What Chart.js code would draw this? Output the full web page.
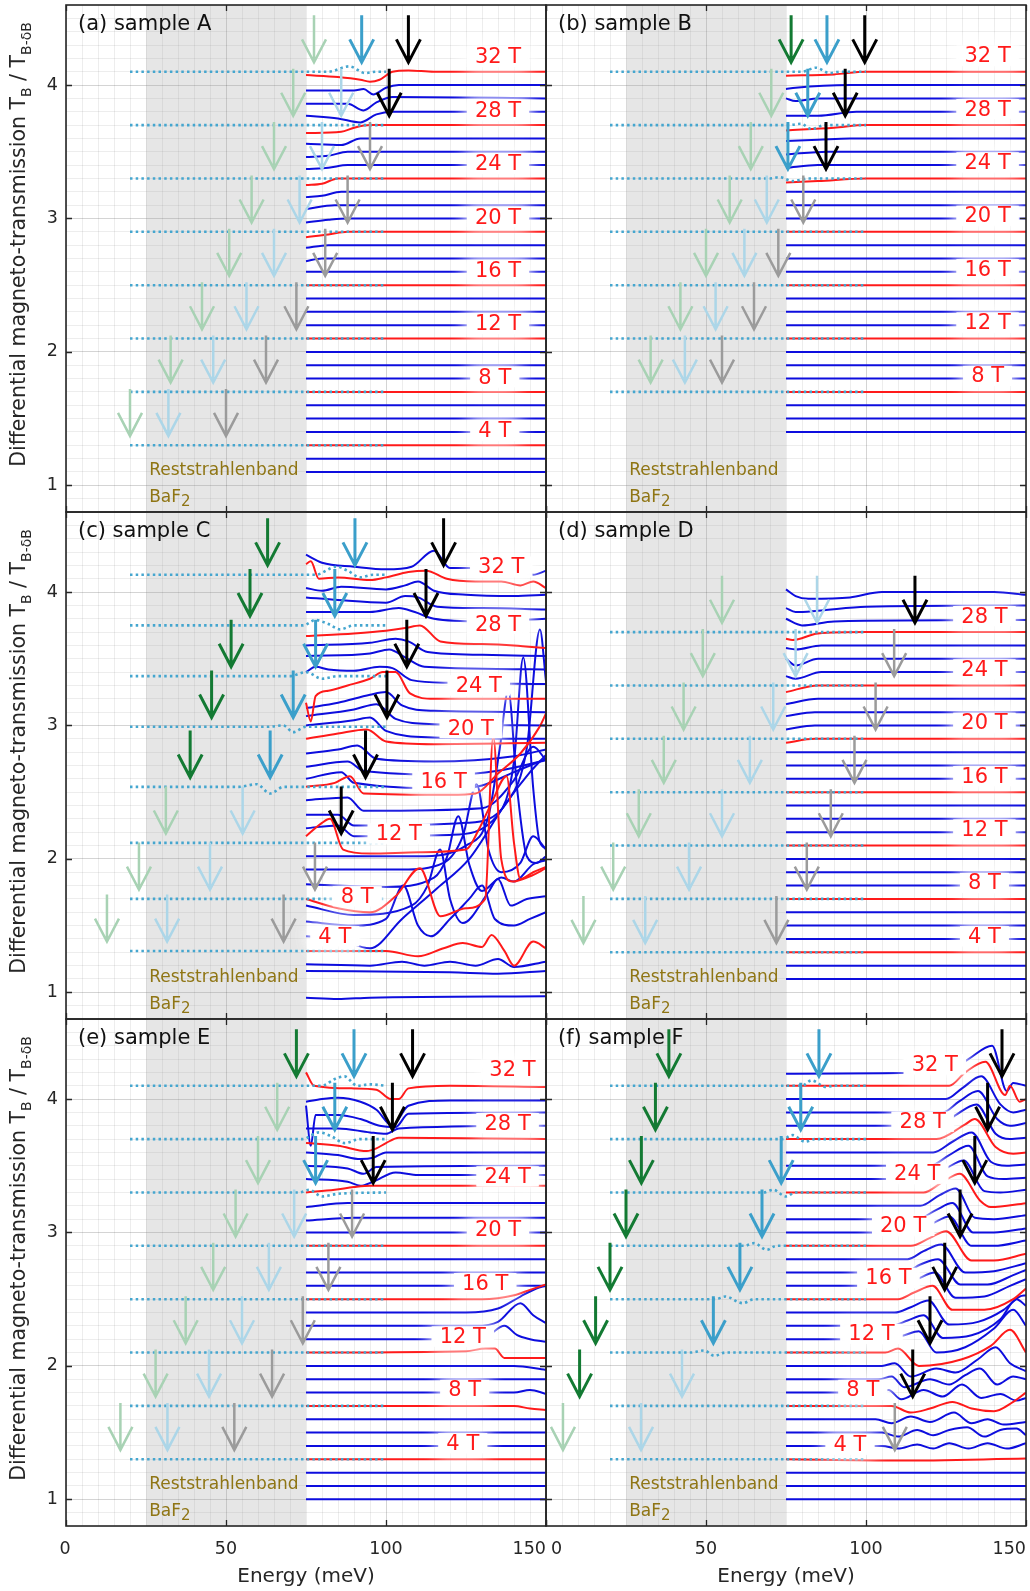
<!DOCTYPE html>
<html>
<head>
<meta charset="utf-8">
<script src="https://cdn.jsdelivr.net/npm/chart.js@4.4.1/dist/chart.umd.min.js"></script>
<style>
  body { margin: 0; background: #fff; }
  #wrap { position: relative; width: 1030px; height: 1591px; overflow: hidden; }
  #wrap canvas { position: absolute; }
</style>
</head>
<body>
<div id="wrap"></div>
<script>
// ---- axis ranges ----
const energyRange = [0, 150];
const ratioRange = [0.8, 4.6];
const bandRange = [25, 75];           // BaF2 Reststrahlenband
const energyTicks = [0, 50, 100, 150];
const ratioTicks = [1, 2, 3, 4];
const fieldStep = 0.1;                // vertical offset per tesla

// ---- traces: [field, [[energy, deviation], ...]]; fields not listed are flat ----
const flatTrace = [[75, 0], [150, 0]];
const flatDotted = [[20, 0], [100, 0]];

// sample A
const fieldsA = [2,3,4,5,6,7,8,9,10,11,12,13,14,15,16,17,18,19,20,21,22,23,24,25,26,27,28,29,30,31,32];
const tracesA = [
  [32, [[75,-0.025],[85,-0.04],[92,-0.06],[95,-0.075],[98,-0.06],[102,0],[107,0.01],[115,0],[150,0]]],
  [31, [[75,-0.04],[90,-0.04],[93,-0.03],[96,-0.07],[100,-0.02],[104,0],[150,0]]],
  [30, [[75,-0.04],[88,-0.04],[93,-0.09],[97,-0.03],[102,0.01],[150,0]]],
  [29, [[75,-0.03],[85,-0.05],[92,-0.08],[97,-0.02],[102,0],[150,0]]],
  [28, [[75,-0.06],[86,-0.05],[90,-0.02],[95,0],[150,0]]],
  [27, [[75,-0.04],[86,-0.05],[92,0],[150,0]]],
  [26, [[75,-0.04],[82,-0.03],[88,0],[150,0]]],
  [25, [[75,-0.03],[82,-0.02],[88,0],[150,0]]],
  [24, [[75,-0.05],[80,-0.04],[85,0],[150,0]]],
  [23, [[75,-0.04],[80,-0.03],[86,0],[150,0]]],
  [22, [[75,-0.03],[84,0],[150,0]]],
  [21, [[75,-0.03],[82,-0.01],[88,0],[150,0]]],
  [20, [[75,-0.04],[82,-0.02],[88,0],[150,0]]],
  [19, [[75,-0.02],[82,0],[150,0]]],
  [18, [[75,-0.02],[80,0],[150,0]]]
];
const dottedFieldsA = [4, 8, 12, 16, 20, 24, 28, 32];
const dottedA = [
  [32, [[20,0],[82,0],[88.5,0.04],[93.5,-0.01],[97,0],[100,0]]]
];
const arrowsA = [
  [32,77.5,'g0'],[32,92.4,'b'],[32,107,'k'],
  [28,71,'g0'],[28,86,'b0'],[28,101,'k'],
  [24,65,'g0'],[24,80,'b0'],[24,95,'k0'],
  [20,58,'g0'],[20,73,'b0'],[20,88,'k0'],
  [16,51,'g0'],[16,65,'b0'],[16,81,'k0'],
  [12,42.5,'g0'],[12,56.4,'b0'],[12,72,'k0'],
  [8,32.7,'g0'],[8,46,'b0'],[8,62.5,'k0'],
  [4,20,'g0'],[4,32,'b0'],[4,50,'k0']
];
const labelsA = [[32,135,4.21],[28,135,3.81],[24,135,3.41],[20,135,3.01],[16,135,2.61],[12,135,2.21],[8,134,1.81],[4,134,1.41]];

// sample B
const fieldsB = [5,6,7,8,9,10,11,12,13,14,15,16,17,18,19,20,21,22,23,24,25,26,27,28,29,30,31,32];
const tracesB = [
  [32, [[75,-0.03],[90,-0.02],[100,0],[150,0]]],
  [31, [[75,-0.03],[78,-0.02],[95,0],[150,0]]],
  [30, [[75,0],[78,-0.02],[85,0],[150,0]]],
  [29, [[75,-0.03],[85,-0.03],[97,0],[150,0]]],
  [28, [[75,-0.04],[90,-0.02],[100,0],[150,0]]],
  [27, [[75,-0.02],[85,-0.01],[95,0],[150,0]]],
  [26, [[75,-0.02],[88,0],[150,0]]],
  [25, [[75,-0.02],[85,0],[150,0]]],
  [24, [[75,-0.03],[85,-0.02],[100,0],[150,0]]]
];
const dottedFieldsB = [8, 12, 16, 20, 24, 28, 32];
const dottedB = [
  [32, [[20,0],[80,0],[84.3,0.03],[88.6,-0.01],[92,0],[100,0]]],
  [28, [[20,0],[76,0],[79.6,0.01],[83,-0.03],[87,0],[100,0]]],
  [24, [[20,0],[70,0],[73,0.01],[77,-0.02],[82,0],[100,0]]]
];
const arrowsB = [
  [32,76.6,'g'],[32,87.8,'b'],[32,99.6,'k'],
  [28,70.4,'g0'],[28,81.8,'b'],[28,93.5,'k'],
  [24,64,'g0'],[24,75.6,'b'],[24,87.5,'k'],
  [20,57.4,'g0'],[20,69,'b0'],[20,80.4,'k0'],
  [16,50,'g0'],[16,62,'b0'],[16,72.6,'k0'],
  [12,42,'g0'],[12,53,'b0'],[12,65,'k0'],
  [8,32.7,'g0'],[8,43.4,'b0'],[8,55,'k0']
];
const labelsB = [[32,138,4.22],[28,138,3.82],[24,138,3.42],[20,138,3.02],[16,138,2.62],[12,138,2.22],[8,138,1.82]];

// sample C (own baselines)
const fieldsC = [1,2,3,4,5,6,7,8,9,10,11,12,13,14,15,16,17,18,19,20,21,22,23,24,25,26,27,28,29,30,31,32,33];
const baseC = [0.96,1.16,1.21,1.31,1.40,1.50,1.60,1.70,1.81,1.92,2.02,2.12,2.23,2.33,2.44,2.54,2.65,2.76,2.87,2.99,3.08,3.18,3.27,3.37,3.46,3.56,3.65,3.75,3.85,3.94,4.03,4.13,4.25];
const tracesC = [
  [33, [[75,0.03],[80,-0.03],[90,-0.06],[100,-0.08],[108,-0.06],[115,0.06],[120,-0.07],[130,-0.07],[140,-0.08],[146,-0.12],[150,-0.09]]],
  [32, [[75,0.08],[76.5,0.1],[79,-0.03],[85,-0.02],[95,-0.04],[100,-0.02],[107,0.02],[112.5,0.03],[119,-0.03],[128,-0.05],[136,-0.05],[142,-0.08],[146,-0.05],[150,-0.1]]],
  [31, [[75,0],[80,-0.02],[86,0.01],[100,-0.01],[106,0.02],[110,0.05],[115,-0.02],[125,-0.05],[140,-0.06],[150,-0.05]]],
  [30, [[75,0.02],[85,0],[100,-0.02],[106,0.03],[110,0.02],[116,-0.05],[130,-0.06],[150,-0.07]]],
  [29, [[75,0],[95,0],[104,0.03],[109,0],[115,-0.05],[130,-0.07],[150,-0.05]]],
  [28, [[75,-0.08],[90,-0.06],[100,-0.04],[106,-0.02],[110.6,0],[117,-0.12],[130,-0.14],[140,-0.15],[150,-0.17]]],
  [27, [[75,-0.05],[95,-0.03],[103,0],[107,-0.02],[113,-0.1],[130,-0.12],[150,-0.13]]],
  [26, [[75,-0.04],[95,-0.02],[101,0.01],[106,-0.05],[112,-0.12],[150,-0.14]]],
  [25, [[75,-0.06],[78,-0.02],[82,-0.04],[90,-0.05],[98,-0.02],[102,-0.03],[108,-0.12],[120,-0.14],[150,-0.15]]],
  [24, [[75,-0.2],[76.5,-0.34],[78,-0.15],[82,-0.11],[88,-0.07],[95,-0.02],[99,0.03],[103,0.03],[107.5,-0.13],[115,-0.17],[150,-0.17]]],
  [23, [[75,-0.14],[85,-0.1],[95,-0.04],[100,-0.02],[105,-0.12],[115,-0.16],[150,-0.17]]],
  [22, [[75,-0.11],[90,-0.06],[97,-0.02],[103,-0.13],[115,-0.17],[150,-0.18]]],
  [21, [[75,-0.08],[90,-0.04],[95,-0.02],[100,-0.12],[115,-0.17],[150,-0.18]]],
  [20, [[75,-0.09],[85,-0.05],[94,-0.02],[100,-0.11],[115,-0.13],[150,-0.12]]],
  [19, [[75,-0.08],[85,-0.05],[91,-0.02],[97,-0.12],[115,-0.14],[140,-0.1],[150,-0.05]]],
  [18, [[75,-0.07],[88,-0.03],[93,-0.1],[120,-0.13],[135,-0.1],[150,-0.02]]],
  [17, [[75,-0.05],[86,0],[90,-0.08],[120,-0.12],[130,-0.1],[140,0],[150,0.1]]],
  [16, [[75,0],[84,0.03],[88.7,0.08],[93,-0.05],[120,-0.06],[128,-0.05],[135,0.1],[142,0.25],[148,0.45],[150,0.55]]],
  [15, [[75,0],[88,0.02],[93,-0.08],[130,-0.06],[140,0.15],[146,0.4],[150,0.3]]],
  [14, [[75,0],[85,0],[90,-0.08],[125,-0.06],[138,0.1],[144,0.5],[148.1,1.39],[150,1.0]]],
  [13, [[75,0],[85,0.02],[90,-0.06],[120,-0.05],[135,0.1],[140,0.5],[142.9,1.28],[146,0.3],[148,-0.1],[150,-0.15]]],
  [12, [[75,0.05],[80,0.15],[82.5,0.18],[86.6,-0.05],[95,-0.08],[110,-0.07],[125,-0.05],[129,0.1],[133,0.3],[137.7,0.5],[140,0],[142,-0.27],[146,-0.22],[150,-0.18]]],
  [11, [[75,0],[110,0],[125,0.08],[132,0.3],[135.5,0.8],[138.2,1.24],[141,0.5],[144,0],[147,-0.05],[150,0]]],
  [10, [[75,0],[105,0],[118,0.05],[124,0.25],[128.3,0.64],[132,0.15],[136,-0.02],[142,0.05],[146,0.25],[150,0.15]]],
  [9, [[75,0],[100,-0.02],[115,0.05],[119,0.2],[122.6,0.51],[126,0.15],[130,-0.05],[136,0.05],[140,0.02],[146,0.15],[150,0.18]]],
  [8, [[75,0],[85,-0.07],[95,-0.1],[103,0.02],[110.6,0.23],[117,-0.13],[125,-0.07],[131,0],[133.5,1.22],[136,0.3],[139.5,0.13],[145,0.17],[150,0.23]]],
  [7, [[75,0.05],[90,-0.02],[108,0.05],[113,0.2],[116.9,0.47],[120,0.1],[124,-0.08],[132,0.15],[135,0.25],[139,0.05],[144,0.1],[150,0.12]]],
  [6, [[75,0.03],[90,0],[100,0.05],[105.4,0.3],[110,0],[114,-0.08],[120,0.05],[126,0.2],[130,0.3],[134,0.05],[140,0],[145,0.05],[150,0.1]]],
  [5, [[75,0.02],[85,0],[95,-0.07],[105,0.15],[116,0.38],[126,0.6],[137,1.0],[145,1.25],[150,1.38]]],
  [4, [[75,0],[100,0],[110,-0.04],[118,0.02],[124,0.06],[130,0.03],[133,0.12],[137,0],[140,-0.11],[146,0.07],[150,0.02]]],
  [3, [[75,0],[95,-0.01],[105,0.02],[112,-0.01],[120,0.02],[128,-0.01],[135,0.04],[140,-0.02],[150,0.02]]],
  [2, [[75,0],[120,-0.01],[135,-0.02],[150,0]]],
  [1, [[75,0],[85,-0.01],[95,0],[150,0.01]]]
];
const dottedFieldsC = [4, 8, 12, 16, 20, 24, 28, 32];
const dottedC = [
  [32, [[20,0],[78,0],[84.5,0.06],[88,0.03],[92,-0.02],[96,0],[100,0]]],
  [28, [[20,0],[74,0],[78,0.04],[82,0.01],[85.6,-0.03],[90,0],[100,0]]],
  [24, [[20,0],[70,0],[75,0.03],[80,-0.02],[85,0],[100,0]]],
  [20, [[20,0],[63,0],[67.9,0.01],[71,-0.04],[75,0],[100,0]]],
  [16, [[20,0],[54,0],[59.6,0.02],[63.8,-0.05],[68,0],[100,0]]]
];
const arrowsC = [
  [32,63,'g'],[32,90.3,'b'],[32,118,'k'],
  [28,57.5,'g'],[28,84,'b'],[28,112.5,'k'],
  [24,51.6,'g'],[24,78,'b'],[24,106.5,'k'],
  [20,45.5,'g'],[20,71,'b'],[20,100.3,'k'],
  [16,38.8,'g'],[16,63.8,'b'],[16,93.6,'k'],
  [12,31.2,'g0'],[12,55.2,'b0'],[12,86,'k'],
  [8,22.8,'g0'],[8,45,'b0'],[8,77.8,'k0'],
  [4,12.8,'g0'],[4,31.6,'b0'],[4,68,'k0']
];
const labelsC = [[32,136,4.19],[28,135,3.76],[24,129,3.30],[20,126.5,2.98],[16,118,2.58],[12,104,2.19],[8,91,1.72],[4,84,1.42]];

// sample D
const fieldsD = [2,3,4,5,6,7,8,9,10,11,12,13,14,15,16,17,18,19,20,21,22,23,24,25,26,27,28,29,30,31];
const tracesD = [
  [31, [[75,0.02],[78,-0.03],[82,-0.05],[95,-0.04],[105,0],[140,0],[150,-0.02]]],
  [30, [[75,-0.02],[78,-0.05],[85,-0.04],[100,-0.01],[150,0]]],
  [29, [[75,0],[80,-0.05],[90,-0.02],[150,-0.01]]],
  [28, [[75,-0.05],[77,-0.06],[85,-0.01],[100,0],[150,0]]],
  [27, [[75,-0.02],[78,-0.03],[86,0],[150,0]]],
  [26, [[75,0],[78,-0.05],[85,0],[150,0]]],
  [25, [[75,-0.03],[78,-0.05],[86,0],[150,0]]],
  [24, [[75,-0.05],[85,0],[150,0]]],
  [23, [[75,-0.04],[85,0],[150,0]]],
  [22, [[75,-0.03],[84,0],[150,0]]],
  [21, [[75,-0.03],[84,0],[150,0]]],
  [20, [[75,-0.03],[84,0],[150,0]]]
];
const dottedFieldsD = [4, 8, 12, 16, 20, 24, 28];
const dottedD = [];
const arrowsD = [
  [28,55,'g0'],[28,84.7,'b0'],[28,115.3,'k'],
  [24,49,'g0'],[24,78,'b0'],[24,108.8,'k0'],
  [20,43,'g0'],[20,71,'b0'],[20,103,'k0'],
  [16,36.8,'g0'],[16,63.7,'b0'],[16,96.4,'k0'],
  [12,29,'g0'],[12,55,'b0'],[12,89,'k0'],
  [8,21,'g0'],[8,44.7,'b0'],[8,81.5,'k0'],
  [4,11.7,'g0'],[4,31,'b0'],[4,72,'k0']
];
const labelsD = [[28,137,3.82],[24,137,3.42],[20,137,3.02],[16,137,2.62],[12,137,2.22],[8,137,1.82],[4,137,1.42]];

// sample E
const fieldsE = [1,2,3,4,5,6,7,8,9,10,11,12,13,14,15,16,17,18,19,20,21,22,23,24,25,26,27,28,29,30,31,32];
const tracesE = [
  [32, [[75,0.1],[77.5,0],[90,-0.02],[97,-0.03],[101.5,-0.1],[104,-0.1],[107,-0.02],[120,0],[150,-0.01]]],
  [31, [[75,-0.02],[80,0],[85,0.01],[92,-0.02],[97,-0.08],[102,-0.2],[107,-0.05],[120,-0.01],[150,-0.01]]],
  [30, [[75,0.05],[76.5,-0.25],[78,-0.02],[85,-0.02],[92,-0.05],[98,-0.1],[103,-0.11],[107,-0.01],[150,0]]],
  [29, [[75,-0.02],[85,-0.02],[95,-0.05],[100,-0.06],[104,-0.02],[150,0]]],
  [28, [[75,-0.03],[85,-0.05],[94,-0.09],[97,-0.07],[100,-0.03],[104,0.01],[150,0]]],
  [27, [[75,0],[85,-0.02],[92,-0.05],[96,-0.04],[100,0],[150,0]]],
  [26, [[75,0],[88,-0.02],[93,-0.06],[97,-0.01],[150,0]]],
  [25, [[75,0],[88,-0.02],[92,-0.05],[96,-0.02],[103,0.05],[110,0.03],[150,0.03]]],
  [24, [[75,0],[84,0.02],[90,0.04],[95,0.05],[150,0.05]]],
  [23, [[75,-0.01],[88,0.02],[150,0.02]]],
  [22, [[75,-0.01],[90,0.01],[150,0.01]]],
  [16, [[75,0],[130,0],[140,0.03],[145,0.07],[150,0.11]]],
  [15, [[75,0],[125,0],[135,0.03],[142,0.12],[147,0.18],[150,0.2]]],
  [14, [[75,0],[128,0],[135,0.03],[142,0.17],[146,0.08],[150,0.02]]],
  [13, [[75,0],[128,0],[132,0.03],[137,0.1],[141,0.03],[145,0],[150,-0.02]]],
  [12, [[75,0],[125,0.01],[131,0.03],[134,0.03],[137,-0.04],[150,-0.04]]],
  [11, [[75,0],[140,0],[150,-0.03]]],
  [9, [[75,0],[140,0],[145,0.02],[150,-0.01]]],
  [8, [[75,0],[140,0],[145,-0.02],[150,-0.03]]]
];
const dottedFieldsE = [4, 8, 12, 16, 20, 24, 28, 32];
const dottedE = [
  [32, [[20,0],[80,0],[84,0.05],[87,0.07],[91,0],[95,0.01],[100,0]]],
  [28, [[20,0],[74,0],[79,0.05],[83,0.02],[87,-0.03],[92,0],[100,0]]],
  [24, [[20,0],[73,0],[76,0.02],[80,-0.03],[85,-0.01],[100,0]]]
];
const arrowsE = [
  [32,72,'g'],[32,90,'b'],[32,108.3,'k'],
  [28,66,'g0'],[28,84,'b'],[28,102,'k'],
  [24,60,'g0'],[24,78,'b'],[24,96,'k'],
  [20,53,'g0'],[20,71.3,'b0'],[20,89.4,'k0'],
  [16,46,'g0'],[16,63.4,'b0'],[16,82,'k0'],
  [12,37.4,'g0'],[12,55,'b0'],[12,74,'k0'],
  [8,28,'g0'],[8,44.7,'b0'],[8,64.4,'k0'],
  [4,17,'g0'],[4,31.7,'b0'],[4,52.6,'k0']
];
const labelsE = [[32,139.5,4.22],[28,138,3.82],[24,138,3.42],[20,135,3.02],[16,131,2.62],[12,124,2.22],[8,124.6,1.82],[4,124,1.42]];

// sample F
const fieldsF = [1,2,3,4,5,6,7,8,9,10,11,12,13,14,15,16,17,18,19,20,21,22,23,24,25,26,27,28,29,30,31,32,33];
const tracesF = [
  [33, [[75,-0.01],[125,0],[132,0.1],[139.4,0.2],[144,-0.14],[146,-0.08],[150,-0.1]]],
  [32, [[75,0],[126,0],[131,0.1],[137.3,0.18],[143.5,-0.07],[145,0],[148,-0.12],[150,-0.1]]],
  [31, [[75,0],[125,0],[130,0.08],[136,0.17],[142,-0.04],[146,-0.1],[150,-0.08]]],
  [30, [[75,0],[124,0],[129,0.08],[135,0.16],[141,-0.05],[145,-0.1],[150,-0.08]]],
  [29, [[75,0],[123,0],[128,0.08],[134.5,0.16],[140.5,-0.06],[145,-0.1],[150,-0.09]]],
  [28, [[75,0],[122,0],[131,0.11],[134,0.15],[140.5,-0.06],[146,-0.11],[150,-0.1]]],
  [27, [[75,0],[121,0],[127,0.08],[133,0.15],[139,-0.07],[144,-0.1],[150,-0.09]]],
  [26, [[75,0],[120,0],[126,0.08],[132,0.15],[138,-0.08],[143,-0.1],[150,-0.09]]],
  [25, [[75,0],[119,0],[125,0.08],[130.5,0.14],[137,-0.09],[142,-0.1],[150,-0.08]]],
  [24, [[75,0],[118,0],[124,0.08],[129.3,0.14],[135.6,-0.06],[139,-0.11],[150,-0.08]]],
  [23, [[75,0],[117,0],[123,0.08],[128,0.13],[134,-0.09],[140,-0.1],[150,-0.07]]],
  [22, [[75,0],[116,0],[122,0.07],[127,0.12],[133.5,-0.1],[140,-0.1],[150,-0.07]]],
  [21, [[75,0],[115,0],[121,0.07],[126,0.12],[133,-0.1],[140,-0.1],[150,-0.06]]],
  [20, [[75,0],[114,0],[120,0.06],[125,0.11],[133,-0.11],[140,-0.11],[150,-0.06]]],
  [19, [[75,0],[113,0],[118,0.06],[123.5,0.11],[131,-0.1],[140,-0.09],[150,-0.03]]],
  [18, [[75,0],[112,0],[117,0.06],[122.5,0.1],[129.5,-0.09],[138,-0.09],[146,-0.02],[150,0.02]]],
  [17, [[75,0],[111,0],[116,0.05],[121.5,0.1],[128,-0.09],[137,-0.08],[145,0],[150,0.05]]],
  [16, [[75,0],[110,0],[115,0.05],[120.8,0.1],[127,-0.08],[137,-0.08],[146,0],[150,0.08]]],
  [15, [[75,0],[109,0],[114,0.04],[119.5,0.09],[126,-0.09],[135,-0.07],[143,0.02],[148,0.12],[150,0.13]]],
  [14, [[75,0],[108,0],[113,0.04],[118,0.08],[124,-0.09],[133,-0.07],[142,0.05],[147,0.2],[150,0.15]]],
  [13, [[75,0],[107,0],[112,0.03],[116.5,0.06],[122,-0.1],[131,-0.06],[140,0.08],[146,0.22],[150,0.1]]],
  [12, [[75,0],[106,0],[110,0.03],[116.5,-0.1],[130,-0.05],[139,0.05],[145,0.17],[150,0]]],
  [11, [[75,0],[105,0],[109,0.02],[114,-0.08],[122,-0.02],[128,-0.05],[135,0.05],[140.5,0.14],[145,0.02],[150,-0.04]]],
  [10, [[75,0],[104,0],[108,0.02],[112,-0.06],[120,0],[126,-0.04],[131,0.03],[135.6,0.08],[141,-0.04],[146,0.02],[150,0]]],
  [9, [[75,0],[104,0],[107,0.02],[111,-0.05],[118,0.02],[124,-0.03],[130,0.06],[136,-0.04],[142,-0.01],[147,-0.06],[150,-0.04]]],
  [8, [[75,0],[108,0],[114,-0.05],[120,-0.02],[127,0.03],[133,-0.02],[140,-0.04],[146,0.03],[150,0.1]]],
  [7, [[75,0],[103,0],[108,-0.03],[114,0.02],[120,-0.02],[127.5,0.05],[133,-0.03],[138,0],[143,-0.04],[150,-0.02]]],
  [6, [[75,0],[105,0],[110,-0.03],[116,0.02],[121,-0.02],[126,0.02],[131.6,0.04],[137,-0.03],[142,0.02],[147,0.03],[150,-0.02]]],
  [5, [[75,0],[105,0],[110,-0.02],[116,0.01],[121,-0.02],[126,0.02],[132,-0.02],[138,0.02],[144,-0.02],[150,0.02]]],
  [4, [[75,0],[110,-0.01],[150,0.005]]]
];
const dottedFieldsF = [4, 8, 12, 16, 20, 24, 28, 32];
const dottedF = [
  [32, [[20,0],[80,0],[83,0.04],[87.5,-0.01],[90,0],[100,0]]],
  [28, [[20,0],[74,0],[77,0.03],[81,-0.02],[84,0],[100,0]]],
  [24, [[20,0],[68,0],[71,0.02],[75,-0.03],[78,0],[100,0]]],
  [20, [[20,0],[62,0],[65,0.02],[69,-0.03],[72,0],[100,0]]],
  [16, [[20,0],[53,0],[56,0.02],[61.5,-0.03],[65,0],[100,0]]],
  [12, [[20,0],[45,0],[49.5,0.015],[52.6,-0.025],[56,0],[100,0]]]
];
const arrowsF = [
  [32,38.4,'g'],[32,85.3,'b'],[32,142.5,'k'],
  [28,34.2,'g'],[28,79.6,'b'],[28,138,'k'],
  [24,29.8,'g'],[24,73.5,'b'],[24,134,'k'],
  [20,25,'g'],[20,67.5,'b'],[20,129.4,'k'],
  [16,20,'g'],[16,60.6,'b'],[16,124.6,'k'],
  [12,15.5,'g'],[12,52.3,'b'],[12,120,'k'],
  [8,10.5,'g'],[8,42.5,'b0'],[8,114.6,'k'],
  [4,5.3,'g0'],[4,29.7,'b0'],[4,109,'k0']
];
const labelsF = [[32,121.5,4.26],[28,117.7,3.83],[24,116,3.44],[20,111.6,3.05],[16,107,2.66],[12,101.7,2.24],[8,99,1.82],[4,95,1.41]];

// ---- styles ----
const BLUE = '#0d0dde';
const RED = '#ff1a1a';
const DOT = '#45a6cf';
const ARROW_STYLE = {
  g:  { color: '#137a33', width: 3 },
  b:  { color: '#3b9fca', width: 3 },
  k:  { color: '#000000', width: 3 },
  g0: { color: '#a8d2b4', width: 2.5 },
  b0: { color: '#acd6e8', width: 2.5 },
  k0: { color: '#9b9b9b', width: 2.5 }
};
const FONT = '"DejaVu Sans", sans-serif';
const AXIS_TEXT = '#262626';

const PLOT_W = 480, PLOT_H = 507;
const colLeft = [66, 546];
const rowTop = [5, 512, 1019];

const panels = [
  { title: '(a) sample A', col: 0, row: 0, fields: fieldsA, traces: tracesA, dottedFields: dottedFieldsA, dotted: dottedA, arrows: arrowsA, labels: labelsA },
  { title: '(b) sample B', col: 1, row: 0, fields: fieldsB, traces: tracesB, dottedFields: dottedFieldsB, dotted: dottedB, arrows: arrowsB, labels: labelsB },
  { title: '(c) sample C', col: 0, row: 1, fields: fieldsC, traces: tracesC, dottedFields: dottedFieldsC, dotted: dottedC, arrows: arrowsC, labels: labelsC, base: baseC },
  { title: '(d) sample D', col: 1, row: 1, fields: fieldsD, traces: tracesD, dottedFields: dottedFieldsD, dotted: dottedD, arrows: arrowsD, labels: labelsD },
  { title: '(e) sample E', col: 0, row: 2, fields: fieldsE, traces: tracesE, dottedFields: dottedFieldsE, dotted: dottedE, arrows: arrowsE, labels: labelsE },
  { title: '(f) sample F', col: 1, row: 2, fields: fieldsF, traces: tracesF, dottedFields: dottedFieldsF, dotted: dottedF, arrows: arrowsF, labels: labelsF }
];

function baseline(panel, field) {
  return panel.base ? panel.base[field - 1] : 1 + fieldStep * (field - 1);
}

function lookup(list, field) {
  const hit = list.find(item => item[0] === field);
  return hit ? hit[1] : null;
}

// draws subscripted text pieces starting at (x, y) along the current baseline
function drawRich(ctx, parts, x, y, size, subScale = 0.7, subDrop = 0.3) {
  let cx = x;
  parts.forEach(([txt, sub]) => {
    ctx.font = (sub ? Math.round(size * subScale) : size) + 'px ' + FONT;
    ctx.fillText(txt, cx, y + (sub ? size * subDrop : 0));
    cx += ctx.measureText(txt).width;
  });
  return cx - x;
}

function richWidth(ctx, parts, size, subScale = 0.7) {
  let w = 0;
  parts.forEach(([txt, sub]) => {
    ctx.font = (sub ? Math.round(size * subScale) : size) + 'px ' + FONT;
    w += ctx.measureText(txt).width;
  });
  return w;
}

const decorPlugin = {
  id: 'decor',
  beforeDatasetsDraw(chart) {
    const { ctx, chartArea: a, scales: { x } } = chart;
    const x0 = x.getPixelForValue(bandRange[0]);
    const x1 = x.getPixelForValue(bandRange[1]);
    ctx.save();
    ctx.fillStyle = 'rgba(150,150,150,0.24)';
    ctx.fillRect(x0, a.top, x1 - x0, a.bottom - a.top);
    ctx.restore();
  },
  afterDatasetsDraw(chart) {
    const panel = chart.options.plugins.decor.panel;
    const { ctx, chartArea: a, scales: { x, y } } = chart;
    ctx.save();
    ctx.beginPath();
    ctx.rect(a.left, a.top, a.right - a.left, a.bottom - a.top);
    ctx.clip();

    // field labels on a soft white patch
    ctx.font = '21px ' + FONT;
    ctx.textAlign = 'center';
    ctx.textBaseline = 'middle';
    panel.labels.forEach(([field, e, ly]) => {
      const txt = field + ' T';
      const w = ctx.measureText(txt).width;
      const cx = x.getPixelForValue(e), cy = y.getPixelForValue(ly);
      ctx.save();
      ctx.fillStyle = 'rgba(255,255,255,0.9)';
      ctx.shadowColor = '#ffffff';
      ctx.shadowBlur = 16;
      ctx.fillRect(cx - w / 2 - 8, cy - 10, w + 16, 20);
      ctx.fillRect(cx - w / 2 - 8, cy - 10, w + 16, 20);
      ctx.restore();
      ctx.fillStyle = RED;
      ctx.fillText(txt, cx, cy + 1);
    });

    // arrows, tip just above the trace they mark
    panel.arrows.forEach(([field, e, kind]) => {
      const st = ARROW_STYLE[kind];
      const px = x.getPixelForValue(e);
      const py = y.getPixelForValue(baseline(panel, field) + 0.07);
      ctx.strokeStyle = st.color;
      ctx.lineWidth = st.width;
      ctx.lineCap = 'butt';
      ctx.lineJoin = 'miter';
      ctx.beginPath();
      ctx.moveTo(px, py - 47);
      ctx.lineTo(px, py - 1);
      ctx.moveTo(px - 12, py - 23);
      ctx.lineTo(px, py);
      ctx.lineTo(px + 12, py - 23);
      ctx.stroke();
    });

    // band annotation
    ctx.fillStyle = '#8f7514';
    ctx.textAlign = 'left';
    ctx.textBaseline = 'middle';
    ctx.font = '17px ' + FONT;
    const bx = x.getPixelForValue(26);
    ctx.fillText('Reststrahlenband', bx, y.getPixelForValue(1.11));
    drawRich(ctx, [['BaF', false], ['2', true]], bx, y.getPixelForValue(0.91), 17, 0.88, 0.3);

    // panel title
    ctx.fillStyle = '#111';
    ctx.font = '21px ' + FONT;
    ctx.fillText(panel.title, a.left + 12, a.top + 20);
    ctx.restore();
  },
  afterDraw(chart) {
    const panel = chart.options.plugins.decor.panel;
    const { ctx, chartArea: a, scales: { x, y } } = chart;
    ctx.save();
    ctx.strokeStyle = AXIS_TEXT;
    ctx.lineWidth = 1.6;
    ctx.strokeRect(a.left, a.top, a.right - a.left, a.bottom - a.top);
    ctx.lineWidth = 1.3;
    ctx.beginPath();
    ratioTicks.forEach(v => {
      const py = Math.round(y.getPixelForValue(v)) + 0.5;
      ctx.moveTo(a.left, py); ctx.lineTo(a.left + 6, py);
      ctx.moveTo(a.right, py); ctx.lineTo(a.right - 6, py);
    });
    energyTicks.forEach(v => {
      const px = Math.round(x.getPixelForValue(v)) + 0.5;
      ctx.moveTo(px, a.top); ctx.lineTo(px, a.top + 6);
      ctx.moveTo(px, a.bottom); ctx.lineTo(px, a.bottom - 6);
    });
    ctx.stroke();

    ctx.fillStyle = AXIS_TEXT;
    if (panel.col === 0) {
      ctx.font = '17.5px ' + FONT;
      ctx.textAlign = 'right';
      ctx.textBaseline = 'middle';
      ratioTicks.forEach(v => ctx.fillText(String(v), a.left - 8, y.getPixelForValue(v)));

      // rotated y title with subscripts
      const parts = [['Differential magneto-transmission T', false], ['B', true], [' / T', false], ['B-\u03b4B', true]];
      const size = 20.5;
      const w = richWidth(ctx, parts, size);
      ctx.save();
      ctx.translate(25, (a.top + a.bottom) / 2 - 14);
      ctx.rotate(-Math.PI / 2);
      ctx.textAlign = 'left';
      ctx.textBaseline = 'alphabetic';
      drawRich(ctx, parts, -w / 2, 0, size);
      ctx.restore();
    }
    if (panel.row === 2) {
      ctx.font = '17.5px ' + FONT;
      ctx.textBaseline = 'middle';
      energyTicks.forEach(v => {
        const px = x.getPixelForValue(v);
        if (v === energyTicks[0] && panel.col === 1) { ctx.textAlign = 'left'; ctx.fillText(String(v), px + 5, a.bottom + 23); }
        else if (v === energyTicks[energyTicks.length - 1]) { ctx.textAlign = 'right'; ctx.fillText(String(v), px, a.bottom + 23); }
        else { ctx.textAlign = 'center'; ctx.fillText(String(v), px - (v === 0 ? 1 : 0), a.bottom + 23); }
      });
      ctx.font = '20px ' + FONT;
      ctx.textAlign = 'center';
      ctx.fillText('Energy (meV)', (a.left + a.right) / 2, a.bottom + 51);
    }
    ctx.restore();
  }
};

function gridColor(isMajor) {
  return isMajor ? 'rgba(0,0,0,0.17)' : 'rgba(0,0,0,0.07)';
}

const wrap = document.getElementById('wrap');
panels.forEach(panel => {
  const leftPad = panel.col === 0 ? 66 : 4;
  const rightPad = 4;
  const topPad = panel.row === 0 ? 5 : 4;
  const bottomPad = panel.row === 2 ? 1591 - (rowTop[2] + PLOT_H) : 4;
  const canvas = document.createElement('canvas');
  canvas.width = leftPad + PLOT_W + rightPad;
  canvas.height = topPad + PLOT_H + bottomPad;
  canvas.style.left = (colLeft[panel.col] - leftPad) + 'px';
  canvas.style.top = (rowTop[panel.row] - topPad) + 'px';
  wrap.appendChild(canvas);

  const datasets = [];
  panel.dottedFields.forEach(field => {
    const pts = lookup(panel.dotted, field) || flatDotted;
    const b = baseline(panel, field);
    datasets.push({
      data: pts.map(([e, d]) => ({ x: e, y: b + d })),
      borderColor: DOT, borderWidth: 2.6, borderDash: [2.5, 3.2],
      pointRadius: 0, cubicInterpolationMode: 'monotone', order: 0
    });
  });
  panel.fields.forEach(field => {
    const pts = lookup(panel.traces, field) || flatTrace;
    const b = baseline(panel, field);
    const red = field % 4 === 0;
    datasets.push({
      data: pts.map(([e, d]) => ({ x: e, y: b + d })),
      borderColor: red ? RED : BLUE, borderWidth: 2,
      pointRadius: 0, cubicInterpolationMode: 'monotone', order: red ? 1 : 2
    });
  });

  new Chart(canvas, {
    type: 'line',
    data: { datasets },
    plugins: [decorPlugin],
    options: {
      responsive: false,
      animation: false,
      events: [],
      layout: { padding: { top: topPad, right: rightPad, left: 0, bottom: 0 } },
      plugins: { legend: { display: false }, tooltip: { enabled: false }, decor: { panel } },
      scales: {
        x: {
          type: 'linear', min: energyRange[0], max: energyRange[1],
          ticks: { display: false, stepSize: 5 },
          border: { display: false },
          grid: { drawTicks: false, color: c => gridColor(c.tick && Math.abs(c.tick.value % 50) < 1e-6) },
          afterFit: s => { s.height = bottomPad; }
        },
        y: {
          type: 'linear', min: ratioRange[0], max: ratioRange[1],
          ticks: { display: false, stepSize: 0.1 },
          border: { display: false },
          grid: { drawTicks: false, color: c => gridColor(c.tick && Math.abs(c.tick.value - Math.round(c.tick.value)) < 1e-6) },
          afterFit: s => { s.width = leftPad; }
        }
      }
    }
  });
});
</script>
</body>
</html>
